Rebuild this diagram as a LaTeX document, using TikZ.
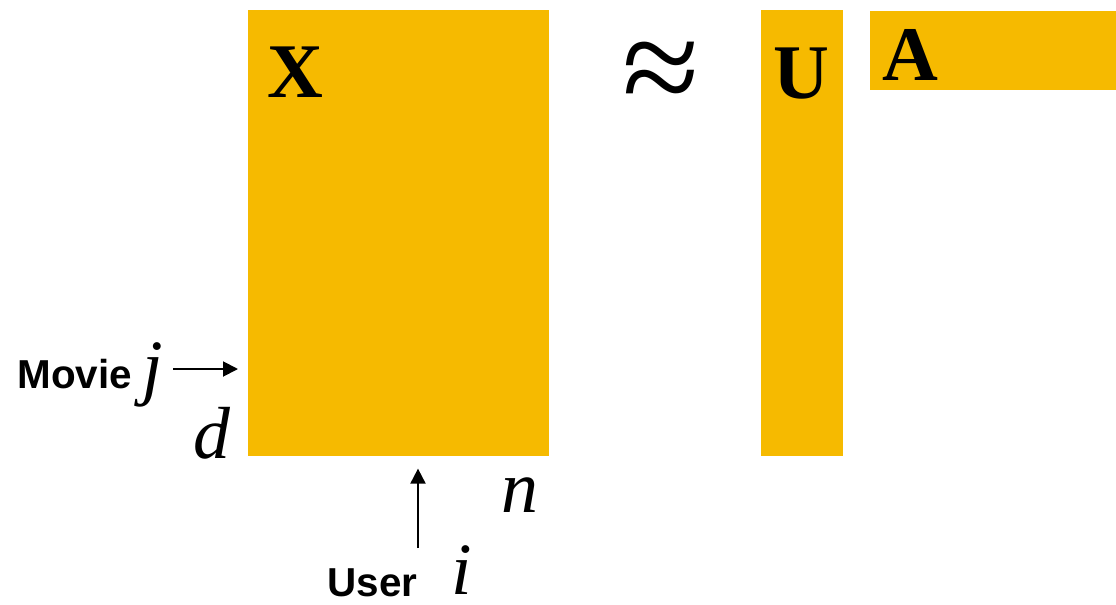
\documentclass[tikz,border=0pt]{standalone}
\usepackage{fontspec}
\setmainfont{Liberation Serif}
\setsansfont{Liberation Sans}
\usetikzlibrary{arrows.meta}
\definecolor{matyellow}{RGB}{246,186,0}
\begin{document}
\begin{tikzpicture}[x=0.02cm,y=-0.02cm,
    mat/.style={fill=matyellow,inner sep=0pt,anchor=north west},
    big/.style={font=\fontsize{44}{44}\selectfont\bfseries,anchor=base},
    var/.style={font=\fontsize{42}{42}\selectfont\itshape,anchor=base,inner sep=0pt},
    lab/.style={font=\fontsize{23}{23}\selectfont\sffamily\bfseries,inner sep=0pt},
    arr/.style={-{Triangle[length=0.3cm,width=0.3cm]},line width=1.1pt}]
  \useasboundingbox (0,0) rectangle (1116,605);
  \node[mat,minimum width=6.02cm,minimum height=8.92cm] (X) at (248,10) {};
  \node[mat,minimum width=1.64cm,minimum height=8.92cm] (U) at (761,10) {};
  \node[mat,minimum width=4.92cm,minimum height=1.58cm] (A) at (870,11) {};
  \node[big] (Xl) at (295,97) {X};
  \node[big] (Ul) at (801,98) {U};
  \node[big] (Al) at (910,80) {A};
  \node[font=\fontsize{80}{80}\selectfont,anchor=base,inner sep=0pt] (approx) at (661,114) {≈};
  \node[lab,anchor=base west] (movie) at (17,388) {Movie};
  \node[var] (j) at (153,391) {j};
  \node[var] (d) at (212,458) {d};
  \node[var] (n) at (520,512) {n};
  \node[lab,anchor=base east] (user) at (418,596) {User};
  \node[var] (i) at (462,594) {i};
  \coordinate (mj) at (173,369);
  \coordinate (ui) at (418,548);
  \draw[arr,shorten >=0.2cm] (mj) -- (mj -| X.west);
  \draw[arr,shorten >=0.24cm] (ui) -- (ui |- X.south);
\end{tikzpicture}
\end{document}
